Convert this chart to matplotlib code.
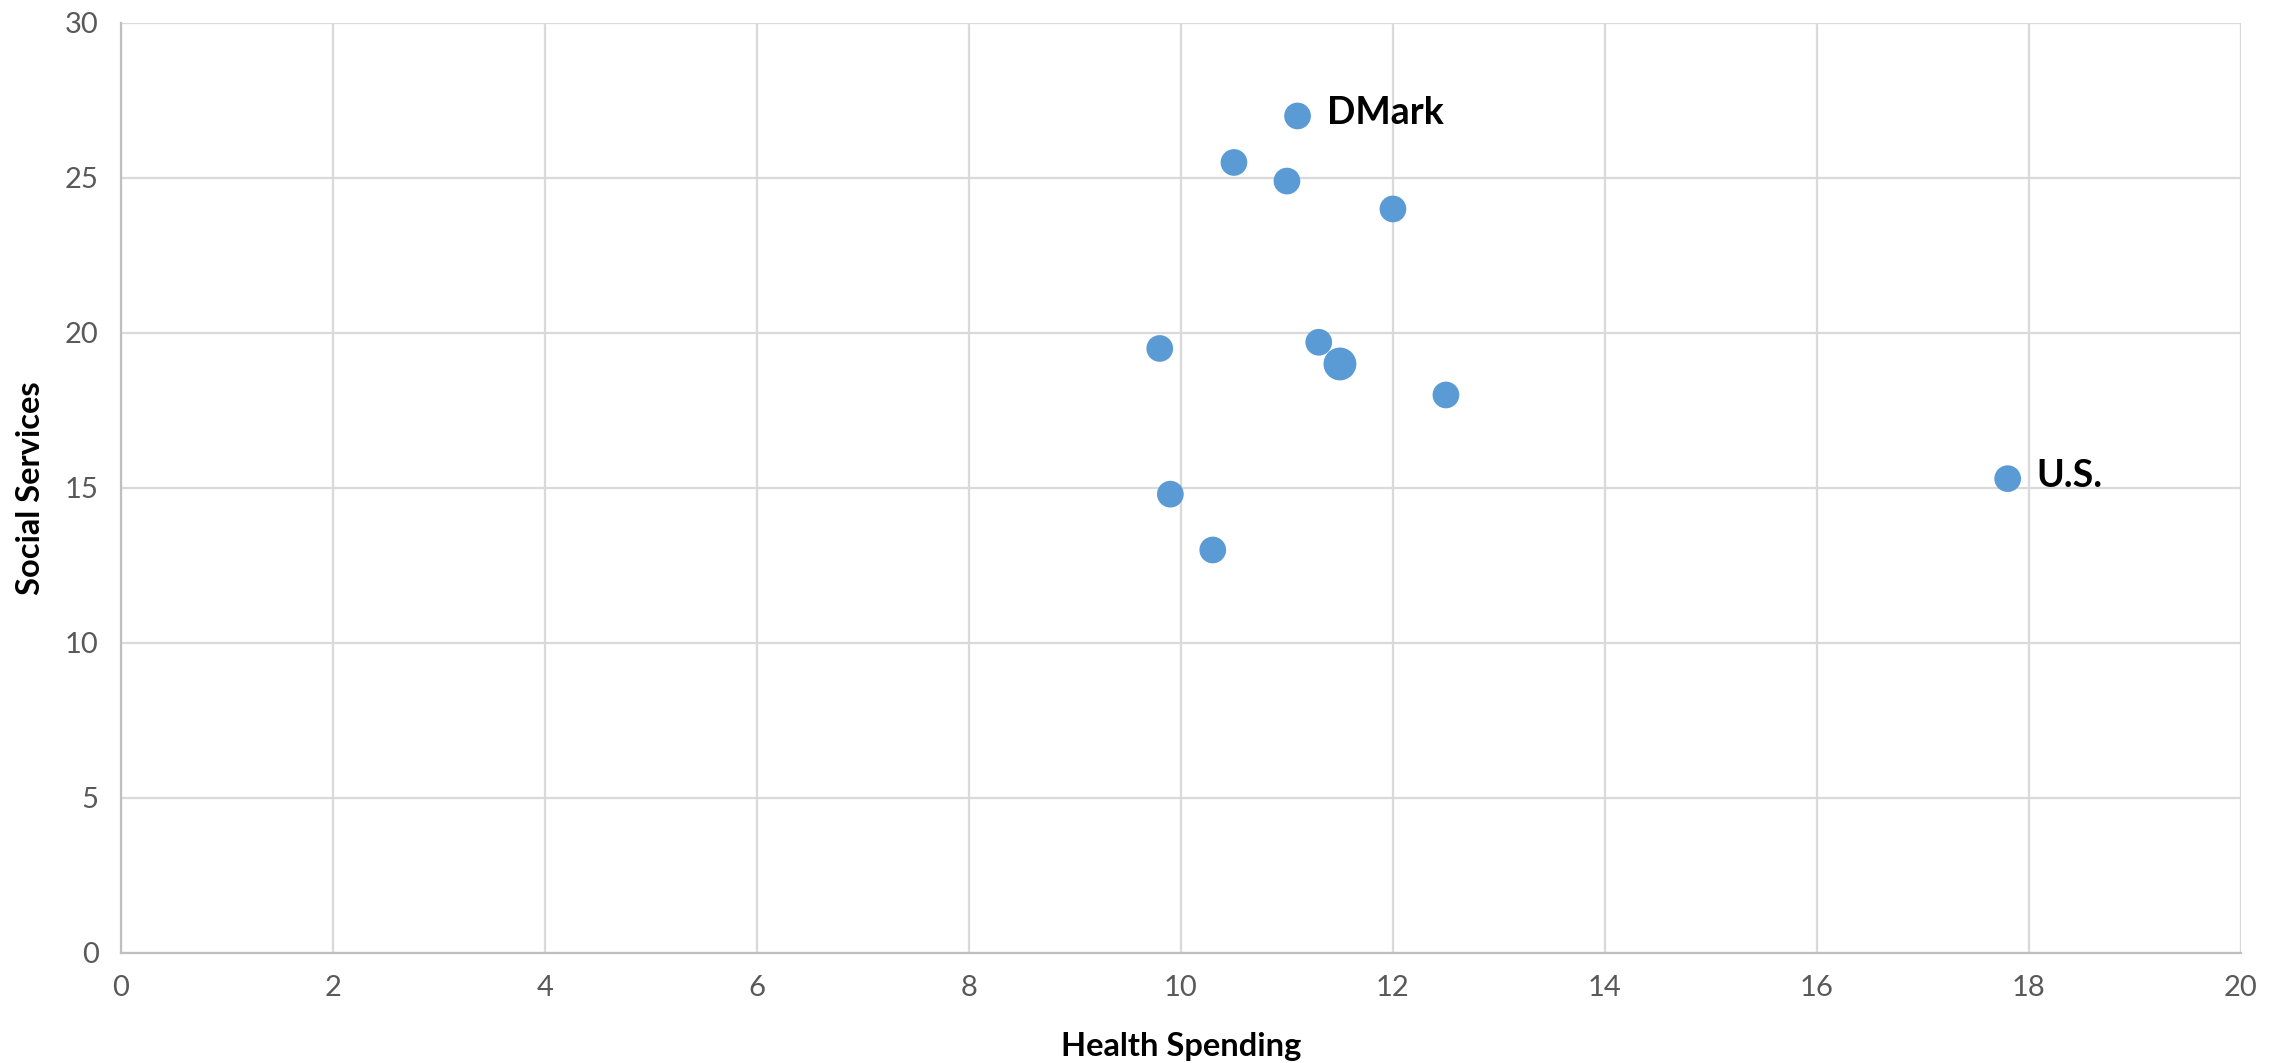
import matplotlib.pyplot as plt

# health spending vs social services (% of GDP)
health = [11.1, 10.5, 11.0, 12.0, 9.8, 11.3, 11.5, 12.5, 9.9, 10.3, 17.8]
social = [27.0, 25.5, 24.9, 24.0, 19.5, 19.7, 19.0, 18.0, 14.8, 13.0, 15.3]
names = ['DMark', '', '', '', '', '', '', '', '', '', 'U.S.']
big_point = 6

plt.rcParams['font.family'] = ['Lato', 'DejaVu Sans']

fig = plt.figure(figsize=(22.88, 10.63), dpi=100)
ax = fig.add_axes([0.0529, 0.1035, 0.9265, 0.8749])

sizes = [560 if i == big_point else 370 for i in range(len(health))]
ax.scatter(health, social, s=sizes, color='#5B9BD5', edgecolors='none', zorder=3)

for x, y, n in zip(health, social, names):
    if n:
        ax.annotate(n, (x, y), xytext=(21, 2), textcoords='offset points',
                    fontsize=27, fontweight='bold', va='center', ha='left')

ax.set_xlim(0, 20)
ax.set_ylim(0, 30)
ax.set_xticks(range(0, 21, 2))
ax.set_yticks(range(0, 31, 5))
ax.grid(True, color='#D9D9D9', linewidth=1.6)
ax.set_axisbelow(True)
for s in ['top', 'right']:
    ax.spines[s].set_visible(False)
for s in ['left', 'bottom']:
    ax.spines[s].set_color('#BFBFBF')
    ax.spines[s].set_linewidth(1.6)
ax.tick_params(length=0, labelsize=21, labelcolor='#595959', pad=16)

ax.set_xlabel('Health Spending', fontsize=23.5, fontweight='bold', labelpad=22)
ax.set_ylabel('Social Services', fontsize=23.5, fontweight='bold', labelpad=14)

fig.savefig('out.png', dpi=100)
